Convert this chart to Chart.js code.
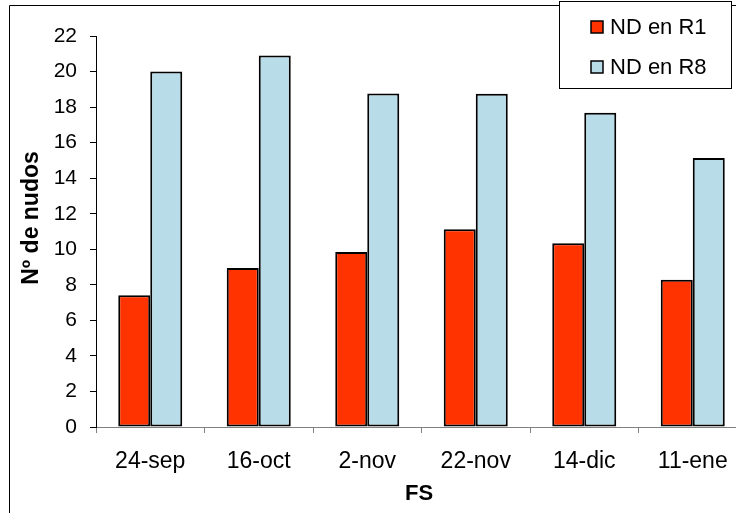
<!DOCTYPE html>
<html>
<head>
<meta charset="utf-8">
<script src="https://cdn.jsdelivr.net/npm/chart.js@4/dist/chart.umd.min.js"></script>
<style>
  html, body { margin: 0; padding: 0; background: #fff; overflow: hidden; }
  #wrap { position: absolute; left: 0; top: 0; width: 760px; height: 513px; }
</style>
</head>
<body>
<div id="wrap"><canvas id="c" width="760" height="513"></canvas></div>
<script>
// Fechas de siembra (FS)
const fechas = ['24-sep', '16-oct', '2-nov', '22-nov', '14-dic', '11-ene'];
// Número de nudos en R1 y en R8
const ndR1 = [7.42, 8.95, 9.85, 11.13, 10.34, 8.28];
const ndR8 = [20.0, 20.9, 18.77, 18.75, 17.68, 15.13];
// Escala del eje Y
const yMin = 0, yMax = 22, yStep = 2;

const FONT = '"Liberation Sans", Arial, sans-serif';

// Marco exterior, títulos de ejes y leyenda
const decor = {
  id: 'decor',
  afterDraw(chart) {
    const ctx = chart.ctx;
    ctx.save();
    // marco
    ctx.strokeStyle = '#000';
    ctx.lineWidth = 1;
    ctx.beginPath();
    ctx.moveTo(9.5, 600);
    ctx.lineTo(9.5, 5.5);
    ctx.lineTo(758.5, 5.5);
    ctx.stroke();

    // títulos
    ctx.fillStyle = '#000';
    ctx.textAlign = 'center';
    ctx.textBaseline = 'middle';
    ctx.font = 'bold 22px ' + FONT;
    ctx.fillText('FS', 419, 494);
    ctx.save();
    ctx.translate(32, 218);
    ctx.rotate(-Math.PI / 2);
    ctx.font = 'bold 23px ' + FONT;
    ctx.fillText('Nº de nudos', 0, 0);
    ctx.restore();

    // leyenda
    const bx = 559.5, by = 1.5, bw = 172, bh = 87;
    ctx.fillStyle = '#fff';
    ctx.fillRect(bx, by, bw, bh);
    ctx.lineWidth = 1;
    ctx.strokeStyle = '#000';
    ctx.strokeRect(bx, by, bw, bh);
    const rows = [27, 67];
    ctx.font = '22px ' + FONT;
    ctx.textAlign = 'left';
    chart.data.datasets.forEach((ds, i) => {
      const y = rows[i];
      ctx.fillStyle = ds.backgroundColor;
      ctx.fillRect(591, y - 6, 12, 12);
      ctx.lineWidth = 1.5;
      ctx.strokeStyle = '#000';
      ctx.strokeRect(591, y - 6, 12, 12);
      ctx.fillStyle = '#000';
      ctx.fillText(ds.label, 610, y + 1);
    });
    ctx.restore();
  }
};

new Chart(document.getElementById('c'), {
  type: 'bar',
  data: {
    labels: fechas,
    datasets: [
      { label: 'ND en R1', data: ndR1, backgroundColor: '#FF3300',
        borderColor: '#000', borderWidth: 2, borderSkipped: false },
      { label: 'ND en R8', data: ndR8, backgroundColor: '#B8DDE8',
        borderColor: '#000', borderWidth: 2, borderSkipped: false }
    ]
  },
  options: {
    responsive: false,
    animation: false,
    devicePixelRatio: 1,
    layout: { padding: { left: 0, top: 36, right: 13, bottom: 0 } },
    datasets: { bar: { categoryPercentage: 0.59, barPercentage: 1.0 } },
    plugins: { legend: { display: false }, tooltip: { enabled: false } },
    scales: {
      x: {
        grid: { display: true, offset: true, drawOnChartArea: false, tickLength: 6, color: '#808080' },
        border: { display: true, color: '#808080', width: 1 },
        ticks: { color: '#000', font: { family: FONT, size: 23 }, padding: 15, maxRotation: 0 },
        afterFit(s) { s.height = 86; }
      },
      y: {
        min: yMin, max: yMax,
        grid: { display: true, drawOnChartArea: false, tickLength: 6, color: '#000' },
        border: { display: true, color: '#000', width: 1 },
        ticks: { stepSize: yStep, color: '#000', font: { family: FONT, size: 21 }, padding: 13 },
        afterFit(s) { s.width = 96; }
      }
    }
  },
  plugins: [decor]
});
</script>
</body>
</html>
